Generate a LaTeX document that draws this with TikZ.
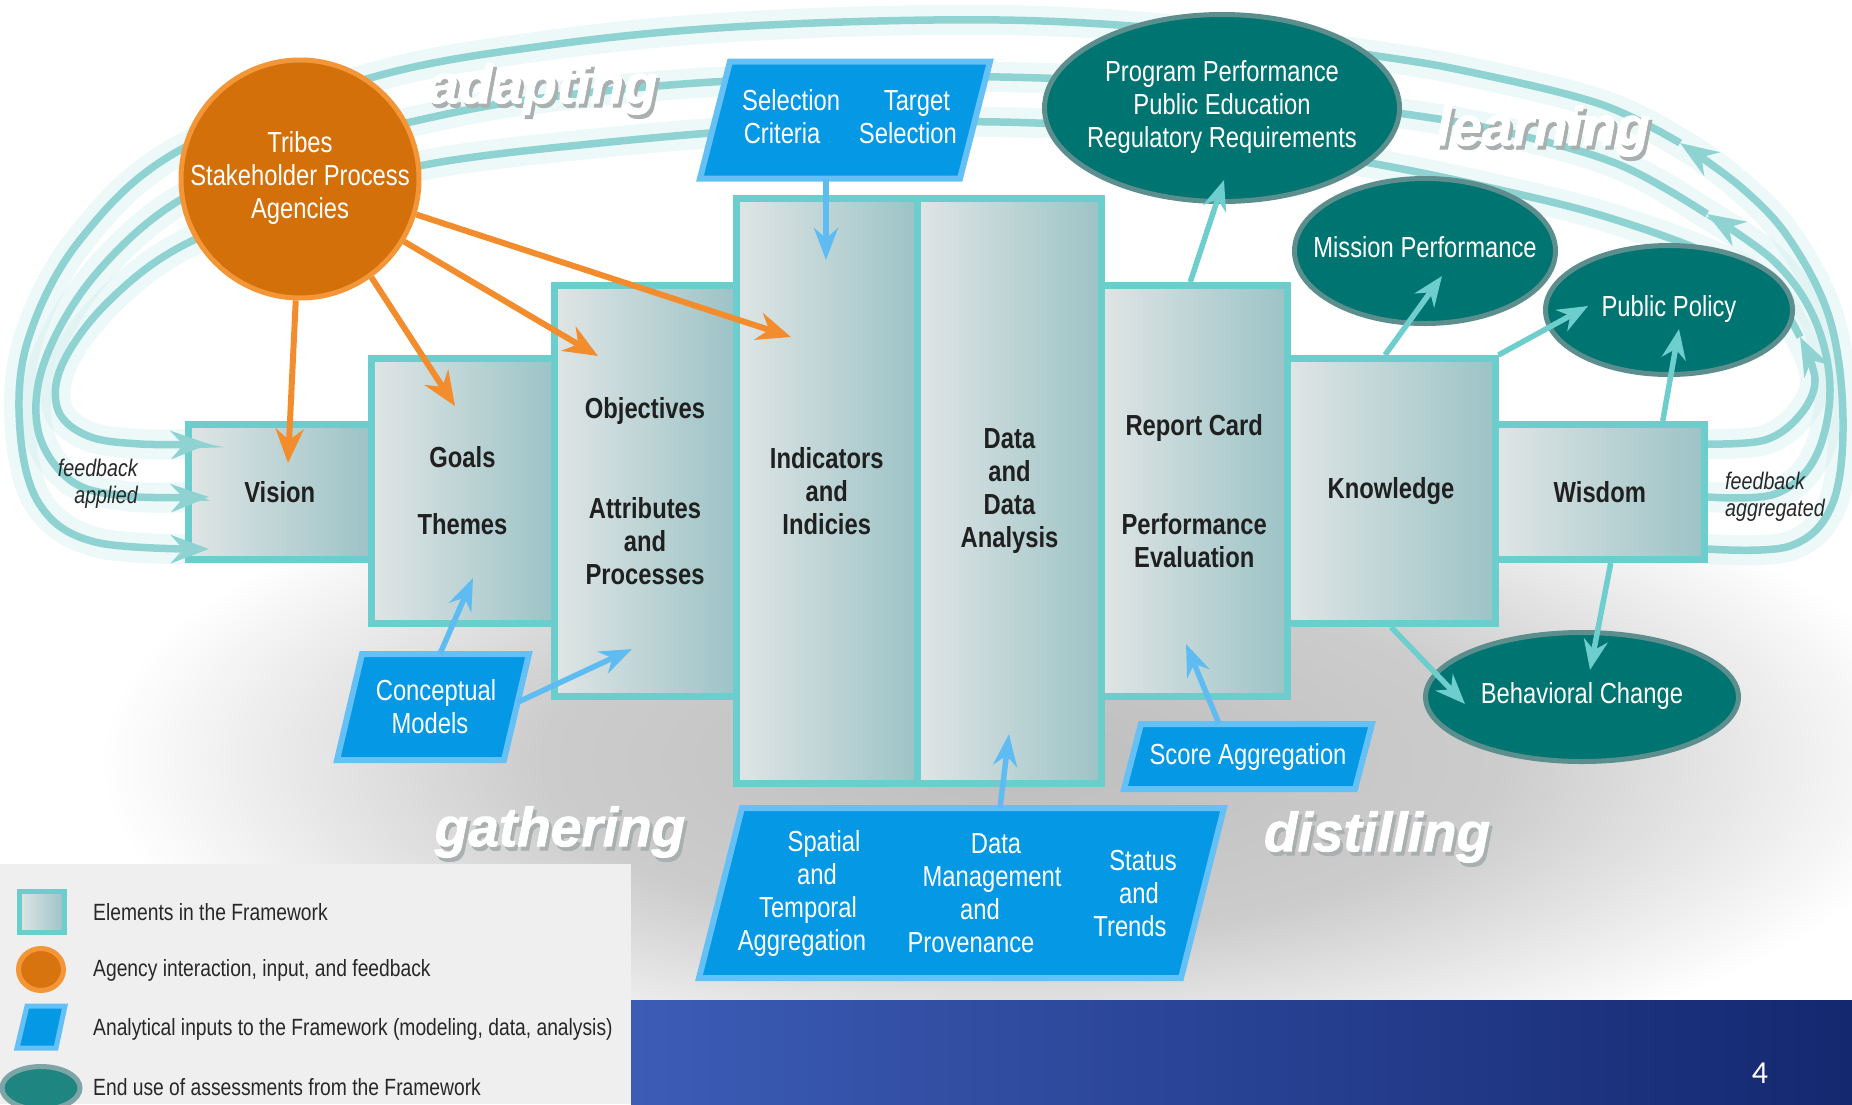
\documentclass[tikz,border=0pt]{standalone}
\usepackage{fontspec}
\setmainfont{Liberation Sans}[FakeStretch=0.82]
\newfontfamily\phasefont{Liberation Sans}[FakeBold=1.5]
\newfontfamily\pagefont{Carlito}
\usetikzlibrary{arrows.meta,calc,shapes.geometric}

\definecolor{boxL}{RGB}{224,229,229}
\definecolor{boxR}{RGB}{156,195,198}
\definecolor{boxB}{RGB}{108,205,205}
\definecolor{boxT}{RGB}{32,32,32}
\definecolor{orF}{RGB}{212,112,10}
\definecolor{orB}{RGB}{242,150,55}
\definecolor{orA}{RGB}{242,140,45}
\definecolor{blF}{RGB}{5,152,228}
\definecolor{blB}{RGB}{100,192,245}
\definecolor{blA}{RGB}{95,188,242}
\definecolor{tlF}{RGB}{0,116,112}
\definecolor{tlB}{RGB}{92,142,142}
\definecolor{tlA}{RGB}{110,205,205}
\definecolor{arcC}{RGB}{142,210,210}
\definecolor{glowC}{RGB}{205,236,236}
\definecolor{ggA}{RGB}{190,190,190}
\definecolor{ggB}{RGB}{204,204,204}
\definecolor{shadC}{RGB}{170,175,175}
\definecolor{fbT}{RGB}{40,40,40}
\definecolor{legBG}{RGB}{239,239,239}
\definecolor{barL}{RGB}{60,92,182}
\definecolor{barR}{RGB}{20,40,112}

\pgfdeclareradialshading{grayglow}{\pgfpoint{0bp}{0bp}}{color(0bp)=(ggA); color(13bp)=(ggB); color(25bp)=(white); color(50bp)=(white)}

\newcommand\wfont{\fontsize{29}{33}\selectfont}
\newcommand\bxfont{\fontsize{29}{33}\selectfont\bfseries}
\newcommand\phfont{\phasefont\bfseries\itshape\fontsize{55}{55}\selectfont}
\newcommand\zw[1]{\makebox[0pt]{\begin{tabular}{@{}c@{}}#1\end{tabular}}}
\newcommand\shadowed[1]{\makebox[0pt][l]{\hspace{3pt}\raisebox{-4pt}{\textcolor{shadC}{#1}}}#1}

\tikzset{
 elem/.style={rectangle, draw=boxB, line width=7pt, left color=boxL, right color=boxR, inner sep=0pt, text=boxT, font=\bxfont, align=center},
 endu/.style={ellipse, draw=tlB, line width=5pt, fill=tlF, text=white, font=\wfont, inner sep=0pt},
 agen/.style={circle, draw=orB, line width=5pt, fill=orF, text=white, font=\wfont, inner sep=0pt},
 anash/.style={draw=blB, line width=6pt, fill=blF, line join=miter},
 anat/.style={text=white, font=\wfont, align=center, inner sep=0pt},
 oarr/.style={draw=orA, line width=6pt, -{Stealth[length=34pt,width=28pt]}},
 barr/.style={draw=blA, line width=5.5pt, -{Stealth[length=32pt,width=24pt]}},
 tarr/.style={draw=tlA, line width=5.5pt, -{Stealth[length=30pt,width=24pt]}},
 arcline/.style={draw=arcC, line width=7.5pt, -{Stealth[length=38pt,width=28pt]}},
 arcglow/.style={draw=glowC, line width=30pt, opacity=0.35, line cap=round},
 phase/.style={font=\phfont, text=white, inner sep=0pt},
 fbl/.style={font=\fontsize{24}{27}\selectfont\itshape, text=fbT, inner sep=0pt},
 legt/.style={font=\fontsize{23.5}{26}\selectfont, text=fbT, inner sep=0pt, anchor=west}
}

\begin{document}
\begin{tikzpicture}[x=1pt,y=1pt]
\useasboundingbox (0,0) rectangle (1852,-1104);
\fill[white] (0,0) rectangle (1852,-1104);
\shade[shading=grayglow] (1020,-760) ellipse [x radius=920, y radius=340];

% glow along the feedback arcs
\draw[arcglow] plot[smooth,tension=.6] coordinates {(1708,-549) (1790,-546) (1832,-505) (1843,-420) (1830,-320) (1790,-240) (1742,-188) (1680,-143) (1600,-104) (1470,-72) (1377,-56) (1200,-32) (1000,-20) (750,-26) (550,-45) (370,-78) (180,-150) (80,-240) (28,-340) (20,-430) (40,-505) (95,-542) (185,-549)};
\draw[arcglow] plot[smooth,tension=.6] coordinates {(1708,-497) (1775,-494) (1815,-458) (1830,-390) (1815,-320) (1775,-262) (1707,-214) (1620,-165) (1510,-133) (1405,-114) (1200,-88) (1000,-77) (750,-80) (550,-97) (424,-119) (300,-152) (180,-200) (95,-275) (45,-360) (38,-430) (70,-480) (125,-496) (185,-497)};
\draw[arcglow] plot[smooth,tension=.6] coordinates {(1708,-444) (1765,-440) (1800,-415) (1815,-380) (1800,-337) (1765,-285) (1700,-250) (1600,-215) (1500,-190) (1381,-165) (1200,-135) (1000,-122) (800,-127) (600,-143) (424,-165) (300,-200) (180,-247) (105,-305) (62,-365) (58,-410) (88,-436) (140,-444) (185,-444)};

% legend background and footer bar
\fill[legBG] (0,-864) rectangle (631,-1104);
\shade[left color=barL, right color=barR] (631,-1000) rectangle (1852,-1104);

% framework elements
\node[elem, minimum width=182.5pt, minimum height=135pt] (vis) at (279.75,-492) {Vision};
\node[elem, minimum width=183pt, minimum height=265pt] (gol) at (462.5,-491) {Goals\\[34pt]Themes};
\node[elem, minimum width=182pt, minimum height=411pt] (obj) at (645,-491) {Objectives\\[67pt]Attributes\\and\\Processes};
\node[elem, minimum width=181.5pt, minimum height=585pt] (ind) at (826.75,-491) {Indicators\\and\\Indicies};
\node[elem, minimum width=184pt, minimum height=585pt] (dat) at (1009.5,-491) {Data\\and\\Data\\Analysis};
\node[elem, minimum width=185.5pt, minimum height=411pt] (rep) at (1194.25,-491) {Report Card\\[66pt]Performance\\Evaluation};
\node[elem, minimum width=208pt, minimum height=265pt] (kno) at (1391,-491) {Knowledge};
\node[elem, minimum width=209.5pt, minimum height=135pt] (wis) at (1599.75,-492) {Wisdom};

% feedback arcs
\coordinate (wo) at ($(wis.east)+(0,-57)$);
\coordinate (wm) at ($(wis.east)+(0,-5)$);
\coordinate (wi) at ($(wis.east)+(0,48)$);
\coordinate (vo) at ($(vis.west)+(24,-57)$);
\coordinate (vm) at ($(vis.west)+(24,-5)$);
\coordinate (vi) at ($(vis.west)+(24,48)$);
\coordinate (ao) at (1680,-143);
\coordinate (am) at (1707,-214);
\coordinate (ai) at (1800,-337);
\draw[arcline] plot[smooth,tension=.6] coordinates {(wo) (1790,-546) (1832,-505) (1843,-420) (1830,-320) (1790,-240) (1742,-188) (ao)};
\draw[arcline] plot[smooth,tension=.6] coordinates {(ao) (1600,-104) (1470,-72) (1377,-56) (1200,-32) (1000,-20) (750,-26) (550,-45) (370,-78) (180,-150) (80,-240) (28,-340) (20,-430) (40,-505) (95,-542) (vo)};
\draw[arcline] plot[smooth,tension=.6] coordinates {(wm) (1775,-494) (1815,-458) (1830,-390) (1815,-320) (1775,-262) (am)};
\draw[arcline] plot[smooth,tension=.6] coordinates {(am) (1620,-165) (1510,-133) (1405,-114) (1200,-88) (1000,-77) (750,-80) (550,-97) (424,-119) (300,-152) (180,-200) (95,-275) (45,-360) (38,-430) (70,-480) (125,-496) (vm)};
\draw[arcline] plot[smooth,tension=.6] coordinates {(wi) (1765,-440) (1800,-415) (1815,-380) (ai)};
\draw[arcline] plot[smooth,tension=.6] coordinates {(ai) (1765,-285) (1700,-250) (1600,-215) (1500,-190) (1381,-165) (1200,-135) (1000,-122) (800,-127) (600,-143) (424,-165) (300,-200) (180,-247) (105,-305) (62,-365) (58,-410) (88,-436) (140,-444) (vi)};

% analytical inputs (parallelograms)
\filldraw[anash] (730,-61.5) -- (990,-61.5) -- (960,-178.5) -- (700,-178.5) -- cycle;
\node[anat, minimum width=230pt, minimum height=117pt] (sel) at (845,-120)
  {\begin{tabular}{@{}c@{\hspace{28pt}}c@{}}\hspace*{9pt}Selection & \hspace*{9pt}Target\\ \hspace*{-9pt}Criteria & \hspace*{-9pt}Selection\end{tabular}};
\filldraw[anash] (362,-654) -- (529,-654) -- (504,-760) -- (337,-760) -- cycle;
\node[anat, minimum width=150pt, minimum height=106pt] (cm) at (433,-707) {\hspace*{6pt}Conceptual\\\hspace*{-6pt}Models};
\filldraw[anash] (1141,-724) -- (1372,-724) -- (1355,-789) -- (1124,-789) -- cycle;
\node[anat, minimum width=214pt, minimum height=65pt] (sca) at (1248,-756.5) {Score Aggregation};
\filldraw[anash] (742,-808) -- (1224,-808) -- (1181,-978) -- (699,-978) -- cycle;
\node[anat, minimum width=440pt, minimum height=170pt] (dm) at (961.5,-893) {};
\node[anat] (dmA) at (813,-893) {\hspace*{22pt}Spatial\\\hspace*{8pt}and\\\hspace*{-10pt}Temporal\\\hspace*{-22pt}Aggregation};
\node[anat] (dmB) at (985,-893) {\hspace*{22pt}Data\\\hspace*{14pt}Management\\\hspace*{-10pt}and\\\hspace*{-28pt}Provenance};
\node[anat] (dmC) at (1137,-893) {\hspace*{12pt}Status\\\hspace*{4pt}and\\\hspace*{-14pt}Trends};

% agency and end uses
\node[agen, minimum size=238pt] (trb) at (300,-179) {\zw{Tribes\\Stakeholder Process\\Agencies}};
\node[endu, minimum width=355pt, minimum height=187pt] (prg) at (1222,-108) {\zw{Program Performance\\Public Education\\Regulatory Requirements}};
\node[endu, minimum width=261pt, minimum height=145pt] (mis) at (1425,-251) {\zw{Mission Performance}};
\node[endu, minimum width=247pt, minimum height=129pt] (pub) at (1669,-310) {\zw{Public Policy}};
\node[endu, minimum width=313pt, minimum height=129pt] (beh) at (1582,-697) {\zw{Behavioral Change}};

% arrow end points
\coordinate (oV) at (288,-463);
\coordinate (oG) at (455,-406);
\coordinate (oO) at (598,-356);
\coordinate (oI) at (791,-337);
\coordinate (bI) at (826,-260);
\coordinate (bG) at (473,-578);
\coordinate (bO) at (632,-649);
\coordinate (bD) at (1009,-734);
\coordinate (bR) at (1186,-644);
\coordinate (tP) at (1224,-180);
\coordinate (tM) at (1442,-276);
\coordinate (tQ) at (1588,-306);
\coordinate (tW) at (1679,-329);
\coordinate (tB) at (1465,-704);
\coordinate (tC) at (1590,-670);

% orange arrows
\draw[oarr] (trb.-92) -- (oV);
\draw[oarr] (trb.-54) -- (oG);
\draw[oarr] (trb.-31) -- (oO);
\draw[oarr] (trb.-17) -- (oI);

% blue arrows
\draw[barr] ($(sel.south)+(-19,0)$) -- (bI);
\draw[barr] ($(cm.north)+(7,0)$) -- (bG);
\draw[barr] ($(cm.east)+(10,5)$) -- (bO);
\draw[barr] ($(dm.north)+(38.5,0)$) -- (bD);
\draw[barr] ($(sca.north)+(-29,0)$) -- (bR);

% teal arrows
\draw[tarr] ($(rep.north)+(-4,0)$) -- (tP);
\draw[tarr] ($(kno.north)+(-6,0)$) -- (tM);
\draw[tarr] (kno.north east) -- (tQ);
\draw[tarr] ($(wis.north)+(63,0)$) -- (tW);
\draw[tarr] (kno.south) -- (tB);
\draw[tarr] ($(wis.south)+(11,0)$) -- (tC);

% phase words
\node[phase] (adp) at (543,-91) {\shadowed{adapting}};
\node[phase] (lrn) at (1543,-133) {\shadowed{learning}};
\node[phase] (gth) at (560,-834) {\shadowed{gathering}};
\node[phase] (dst) at (1377,-839) {\shadowed{distilling}};

% feedback labels
\node[fbl, anchor=east, align=right] (fba) at (138,-484) {feedback\\applied};
\node[fbl, anchor=west, align=left] (fbg) at (1725,-497) {feedback\\aggregated};

% legend
\node[rectangle, draw=boxB, line width=5pt, left color=boxL, right color=boxR, minimum width=45pt, minimum height=41pt, inner sep=0pt] (lg1) at (41.5,-912) {};
\node[ellipse, draw=orB, line width=5pt, fill=orF!90!orB, minimum width=45pt, minimum height=42pt, inner sep=0pt] (lg2) at (41,-969.5) {};
\filldraw[anash, line width=5pt] (27,-1006) -- (65,-1006) -- (56,-1048) -- (17,-1048) -- cycle;
\node[ellipse, draw=tlB!80!white, line width=5pt, fill=tlF!88!white, minimum width=78pt, minimum height=43pt, inner sep=0pt] (lg4) at (41,-1088) {};
\node[legt] (lt1) at (93,-912) {Elements in the Framework};
\node[legt] (lt2) at (93,-970) {Agency interaction, input, and feedback};
\node[legt] (lt3) at (93,-1029) {Analytical inputs to the Framework (modeling, data, analysis)};
\node[legt] (lt4) at (93,-1087) {End use of assessments from the Framework};

% page number
\node[font=\pagefont\fontsize{32}{32}\selectfont, text=white, inner sep=0pt] (pg) at (1760,-1073) {4};
\end{tikzpicture}
\end{document}
